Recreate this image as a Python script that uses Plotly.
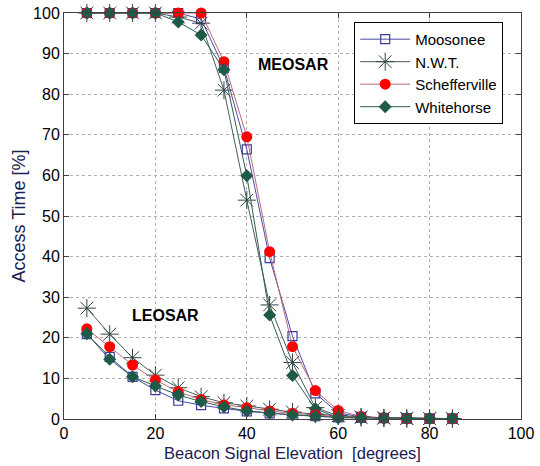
import plotly.graph_objects as go

elev = [5, 10, 15, 20, 25, 30, 35, 40, 45, 50, 55, 60, 65, 70, 75, 80, 85]

meo_moosonee = [100, 100, 100, 100, 100, 98.5, 86.5, 66.4, 39.6, 20.4, 6.3, 1.5, 0.5, 0.3, 0.2, 0.1, 0.1]
meo_nwt = [100, 100, 100, 100, 99, 97.5, 81, 53.9, 28.1, 13.9, 2.8, 0.8, 0.4, 0.2, 0.1, 0.1, 0.1]
meo_schef = [100, 100, 100, 100, 100, 100, 88, 69.5, 41.2, 17.8, 7.0, 2.1, 0.6, 0.3, 0.2, 0.1, 0.1]
meo_white = [100, 100, 100, 100, 97.8, 94.6, 86, 59.9, 25.6, 10.7, 2.5, 0.3, 0.3, 0.2, 0.1, 0.1, 0.1]

leo_moosonee = [20.9, 15.3, 10.4, 7.1, 4.5, 3.4, 2.6, 1.9, 1.4, 1.0, 0.7, 0.4, 0.3, 0.2, 0.1, 0.1, 0.1]
leo_nwt = [27.3, 20.9, 15.1, 10.8, 7.7, 5.5, 4.0, 3.2, 2.4, 1.7, 1.2, 0.8, 0.5, 0.3, 0.2, 0.1, 0.1]
leo_schef = [22.2, 17.8, 13.3, 9.6, 6.7, 4.8, 3.5, 2.8, 2.0, 1.4, 1.0, 0.6, 0.4, 0.2, 0.1, 0.1, 0.1]
leo_white = [21.0, 14.7, 10.4, 8.1, 5.9, 4.3, 3.0, 2.0, 1.5, 1.0, 0.7, 0.4, 0.3, 0.2, 0.1, 0.1, 0.1]

names = ["Moosonee", "N.W.T.", "Schefferville", "Whitehorse"]
meo = [meo_moosonee, meo_nwt, meo_schef, meo_white]
leo = [leo_moosonee, leo_nwt, leo_schef, leo_white]

FONT = "Liberation Sans, Arial"

styles = [
    dict(line=dict(color="#4a4aa8", width=1),
         marker=dict(symbol="square-open", size=9, color="#3a3aa0", line=dict(width=1.2, color="#3a3aa0"))),
    dict(line=dict(color="#4a5a5a", width=1),
         marker=dict(symbol="asterisk-open", size=15, color="#2f4545", line=dict(width=1, color="#2f4545"))),
    dict(line=dict(color="#b86a78", width=1),
         marker=dict(symbol="circle", size=11, color="#ff0000", line=dict(width=0))),
    dict(line=dict(color="#2e5e50", width=1),
         marker=dict(symbol="diamond", size=10, color="#1e5a48", line=dict(width=0))),
]

fig = go.Figure()
for i, nm in enumerate(names):
    fig.add_trace(go.Scatter(x=elev, y=meo[i], mode="lines+markers", name=nm,
                             legendgroup=nm, showlegend=True, cliponaxis=False, **styles[i]))
for i, nm in enumerate(names):
    fig.add_trace(go.Scatter(x=elev, y=leo[i], mode="lines+markers", name=nm,
                             legendgroup=nm, showlegend=False, cliponaxis=False, **styles[i]))

fig.add_annotation(x=50.3, y=87.2, text="<b>MEOSAR</b>", showarrow=False,
                   font=dict(family=FONT, size=16, color="black"))
fig.add_annotation(x=22.2, y=25.6, text="<b>LEOSAR</b>", showarrow=False,
                   font=dict(family=FONT, size=16, color="black"))

axis_common = dict(showgrid=True, gridcolor="#b0b0b0", griddash="dot", gridwidth=1,
                   showline=True, linecolor="#404040", linewidth=1, mirror="ticks",
                   ticks="inside", ticklen=5, tickcolor="#404040", zeroline=False,
                   automargin=False, ticklabeloverflow="allow",
                   tickfont=dict(family=FONT, size=16, color="black"))

fig.update_xaxes(range=[0, 100], tick0=0, dtick=20,
                 title=dict(text="Beacon Signal Elevation  [degrees]",
                            font=dict(family=FONT, size=16.5, color="#1a2050"),
                            standoff=6),
                 **axis_common)
fig.update_yaxes(range=[0, 100], tick0=0, dtick=10,
                 title=dict(text="Access Time [%]",
                            font=dict(family=FONT, size=18, color="#1a2050"),
                            standoff=2),
                 **axis_common)

fig.update_layout(
    width=540, height=466,
    margin=dict(l=64, r=19, t=13, b=47),
    paper_bgcolor="white", plot_bgcolor="white",
    font=dict(family=FONT, size=15, color="black"),
    legend=dict(x=0.635, y=0.978, xanchor="left", yanchor="top",
                bgcolor="white", bordercolor="black", borderwidth=1,
                font=dict(family=FONT, size=15, color="black"), itemwidth=50,
                tracegroupgap=0),
    showlegend=True,
)

# remove the default page margin so the 540x466 figure fills the window exactly
fig.write_html("out.html",
               config={"displayModeBar": False, "staticPlot": True},
               post_script="document.body.style.margin='0';document.body.style.overflow='hidden';")
